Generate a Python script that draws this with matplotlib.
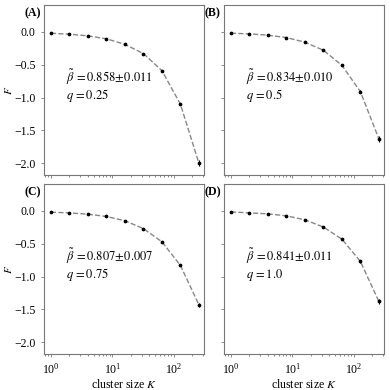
import numpy as np
import matplotlib.pyplot as plt

plt.rcParams['font.family'] = ['Liberation Serif', 'DejaVu Serif']
plt.rcParams['mathtext.fontset'] = 'stix'

K = [1, 2, 4, 8, 16, 32, 64, 128, 256]
F_A = [-0.02, -0.035, -0.06, -0.105, -0.19, -0.33, -0.59, -1.10, -2.00]
F_B = [-0.02, -0.03, -0.05, -0.086, -0.157, -0.28, -0.51, -0.91, -1.63]
F_C = [-0.02, -0.03, -0.05, -0.085, -0.15, -0.27, -0.47, -0.83, -1.43]
F_D = [-0.015, -0.03, -0.045, -0.075, -0.136, -0.246, -0.43, -0.77, -1.38]
err_A = [0.003, 0.003, 0.004, 0.005, 0.006, 0.008, 0.012, 0.02, 0.05]
err_B = [0.003, 0.003, 0.004, 0.005, 0.006, 0.008, 0.012, 0.02, 0.04]
err_C = [0.003, 0.003, 0.004, 0.005, 0.006, 0.008, 0.01, 0.015, 0.03]
err_D = [0.003, 0.003, 0.004, 0.005, 0.006, 0.008, 0.01, 0.018, 0.04]

panels = ['(A)', '(B)', '(C)', '(D)']
betas = ['0.858', '0.834', '0.807', '0.841']
beta_err = ['0.011', '0.010', '0.007', '0.011']
qs = ['0.25', '0.5', '0.75', '1.0']
Fs = [F_A, F_B, F_C, F_D]
errs = [err_A, err_B, err_C, err_D]

fig = plt.figure(figsize=(3.9, 3.9), dpi=100)
W, H = 390, 390
boxes = [(44, 5), (224, 5), (44, 184), (224, 184)]
aw, ah = 160, 170

for i in range(4):
    x0, y0 = boxes[i]
    ax = fig.add_axes([x0 / W, 1 - (y0 + ah) / H, aw / W, ah / H])
    ax.plot(K, Fs[i], '--', color='#888888', lw=1.0, zorder=1)
    ax.errorbar(K, Fs[i], yerr=errs[i], fmt='o', color='black', ms=1.7,
                elinewidth=0.8, capsize=0, zorder=2)
    ax.set_xscale('log')
    ax.set_xlim(0.77, 310)
    ax.set_ylim(-2.18, 0.41)
    ax.set_yticks([0.0, -0.5, -1.0, -1.5, -2.0])
    for s in ax.spines.values():
        s.set_color('#777777')
        s.set_linewidth(0.8)
    ax.tick_params(which='both', direction='out', colors='#777777',
                   labelcolor='black', labelsize=8.5, length=2.5, width=0.6)
    ax.tick_params(which='minor', length=1.5)
    if i % 2 == 0:
        ax.set_ylabel('$F$', fontsize=8)
        ax.yaxis.set_label_coords(-0.19, 0.5)
    else:
        ax.set_yticklabels([])
    if i < 2:
        ax.set_xticklabels([])
        ax.set_xticklabels([], minor=True)
    else:
        ax.set_xlabel('cluster size $K$', fontsize=8.5, labelpad=0.5)
    ax.text(-0.02, 0.95, panels[i], transform=ax.transAxes, ha='right',
            va='center', fontsize=8.5, fontweight='bold')
    beta_txt = r'$\tilde{\beta}\,=' + betas[i] + r'\!\pm\!' + beta_err[i] + '$'
    ax.text(0.14, 0.575, beta_txt, transform=ax.transAxes, fontsize=9, va='center')
    ax.text(0.14, 0.465, r'$q\,=' + qs[i] + '$', transform=ax.transAxes,
            fontsize=9, va='center')

fig.savefig('out.png', dpi=100)
